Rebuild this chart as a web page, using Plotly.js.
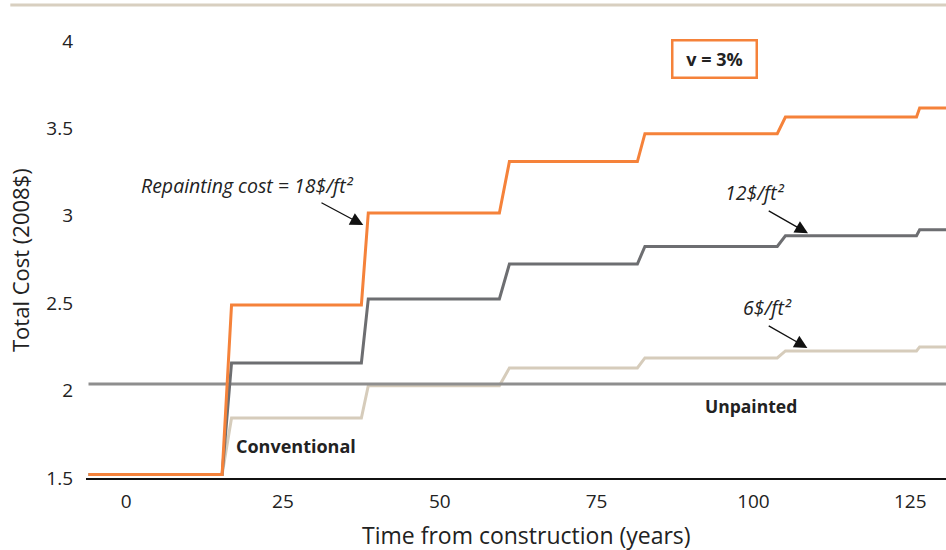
<!DOCTYPE html>
<html>
<head>
<meta charset="utf-8">
<script src="https://cdn.plot.ly/plotly-3.0.1.min.js"></script>
<style>html,body{margin:0;padding:0;background:#fff;}#chart{width:946px;height:550px;}</style>
</head>
<body>
<div id="chart"></div>
<script>
// Time (years) at the step corners
const years = [-6, 15.3, 16.8, 37.5, 38.6, 59.5, 61.1, 81.5, 82.7, 103.8, 105.1, 126, 126.5, 131];
// Total cost for each repainting cost (2008$)
const cost18 = [1.52, 1.52, 2.49, 2.49, 3.016, 3.016, 3.31, 3.31, 3.47, 3.47, 3.565, 3.565, 3.617, 3.617];
const cost12 = [1.52, 1.52, 2.158, 2.158, 2.524, 2.524, 2.724, 2.724, 2.825, 2.825, 2.886, 2.886, 2.92, 2.92];
const cost6  = [1.52, 1.52, 1.843, 1.843, 2.028, 2.028, 2.13, 2.13, 2.187, 2.187, 2.227, 2.227, 2.25, 2.25];
const unpaintedYears = [-6, 131];
const unpaintedCost = [2.038, 2.038];
const xTicks = [0, 25, 50, 75, 100, 125];
const yTicks = [1.5, 2, 2.5, 3, 3.5, 4];
const yTickText = ['1.5', '2', '2.5', '3', '3.5', '4'];

const FONT = 'Open Sans, Noto Sans, sans-serif';

const traces = [
  {x: years, y: cost6, mode: 'lines', line: {color: '#d6ccbb', width: 3}, hoverinfo: 'skip'},
  {x: unpaintedYears, y: unpaintedCost, mode: 'lines', line: {color: '#8e8e8e', width: 3}, hoverinfo: 'skip'},
  {x: years, y: cost12, mode: 'lines', line: {color: '#6d6e71', width: 3}, hoverinfo: 'skip'},
  {x: years, y: cost18, mode: 'lines', line: {color: '#f5823a', width: 3}, hoverinfo: 'skip'}
];

function arrow(tx, ty, hx, hy) {
  return {x: hx, y: hy, ax: tx, ay: ty, axref: 'x', ayref: 'y', xref: 'x', yref: 'y',
    text: '', showarrow: true, arrowhead: 2, arrowsize: 2, arrowwidth: 1.3, arrowcolor: '#111', standoff: 0, startstandoff: 0};
}
function label(x, y, text, bold, italic, size) {
  return {x: x, y: y, xref: 'x', yref: 'y', showarrow: false, xanchor: 'center', yanchor: 'middle',
    text: italic ? '<i>' + text + '</i>' : (bold ? '<b>' + text + '</b>' : text),
    font: {family: FONT, size: size || 17, color: '#222'}};
}
const SUP = '²';

const layout = {
  width: 946, height: 550,
  margin: {l: 86, r: 0, t: 5, b: 72},
  paper_bgcolor: '#fff', plot_bgcolor: '#fff',
  showlegend: false,
  font: {family: FONT, color: '#222'},
  xaxis: {
    range: [-6.4, 130.7], tickvals: xTicks, showgrid: false, zeroline: false,
    showline: true, linecolor: '#111', linewidth: 1.5, ticks: '',
    ticklabelstandoff: 6,
    tickfont: {family: FONT, size: 19, color: '#222'}
  },
  yaxis: {
    range: [1.5, 4.206], tickvals: yTicks, ticktext: yTickText, showgrid: false, zeroline: false,
    showline: false, ticks: '', ticklabelstandoff: 12,
    tickfont: {family: FONT, size: 19, color: '#222'}
  },
  shapes: [
    {type: 'line', xref: 'paper', yref: 'paper', x0: -0.088, x1: 1, y0: 1, y1: 1, line: {color: '#d8cfc0', width: 3}}
  ],
  annotations: [
    {xref: 'paper', yref: 'paper', x: (20 - 86) / 860, y: (478 - 260) / 473, xanchor: 'center', yanchor: 'middle',
     textangle: -90, showarrow: false, text: 'Total Cost (2008$)', font: {family: FONT, size: 22, color: '#222'}},
    {xref: 'paper', yref: 'paper', x: (526 - 86) / 860, y: (478 - 535) / 473, xanchor: 'center', yanchor: 'middle',
     showarrow: false, text: 'Time from construction (years)', font: {family: FONT, size: 23, color: '#222'}},
    label(19.3, 3.176, 'Repainting cost = 18$/ft' + SUP, false, true, 19.5),
    arrow(30.9, 3.079, 37.8, 2.947),
    label(100.3, 3.136, '12$/ft' + SUP, false, true, 19.5),
    arrow(102.2, 3.033, 108.7, 2.90),
    label(102.2, 2.478, '6$/ft' + SUP, false, true, 19.5),
    arrow(102.2, 2.375, 108.6, 2.244),
    label(99.6, 1.912, 'Unpainted', true, false, 17.5),
    label(27.1, 1.683, 'Conventional', true, false, 18),
    {x: 93.8, y: 3.897, xref: 'x', yref: 'y', showarrow: false, text: '<b>v = 3%</b>',
     font: {family: FONT, size: 18, color: '#222'}, bordercolor: '#f5823a', borderwidth: 2.5,
     width: 80, height: 33, borderpad: 1, bgcolor: '#fff'}
  ]
};

Plotly.newPlot('chart', traces, layout, {displayModeBar: false, staticPlot: true});
</script>
</body>
</html>
